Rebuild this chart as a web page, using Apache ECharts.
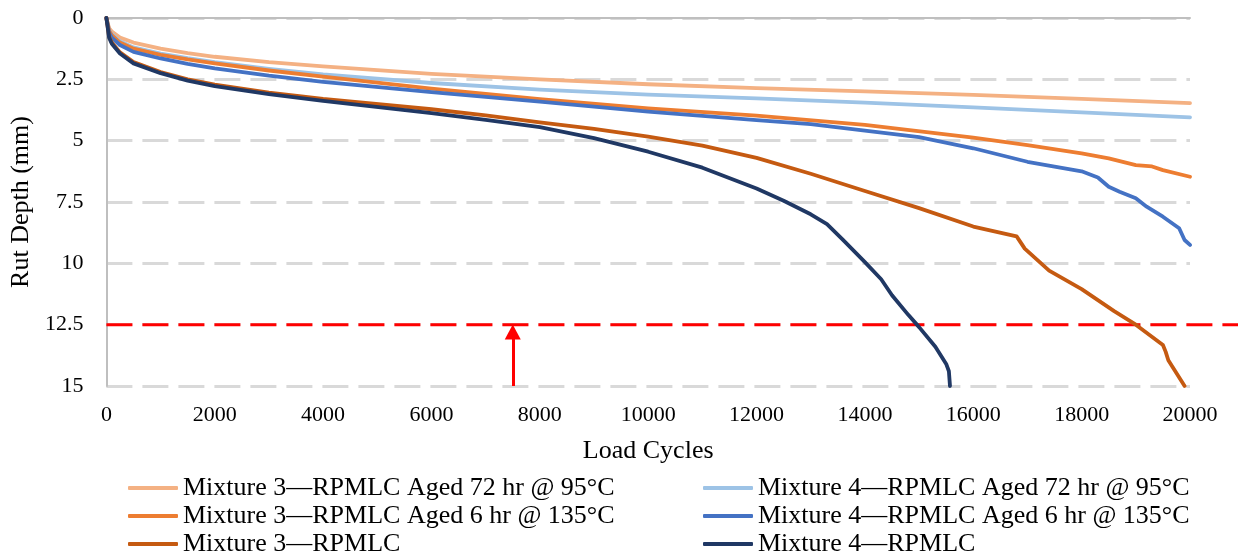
<!DOCTYPE html>
<html>
<head>
<meta charset="utf-8">
<script src="https://cdn.jsdelivr.net/npm/echarts@6/dist/echarts.min.js"></script>
<style>
html, body { margin: 0; padding: 0; background: #fff; }
#rut_chart { width: 1238px; height: 558px; }
</style>
</head>
<body>
<div id="rut_chart"></div>
<script>
// tick labels / names
var xTicks = [0, 2000, 4000, 6000, 8000, 10000, 12000, 14000, 16000, 18000, 20000];
var yTicks = [0, 2.5, 5, 7.5, 10, 12.5, 15];
var seriesNames = [
    'Mixture 3\u2014RPMLC Aged 72 hr @ 95\u00b0C',
    'Mixture 4\u2014RPMLC Aged 72 hr @ 95\u00b0C',
    'Mixture 3\u2014RPMLC Aged 6 hr @ 135\u00b0C',
    'Mixture 4\u2014RPMLC Aged 6 hr @ 135\u00b0C',
    'Mixture 3\u2014RPMLC',
    'Mixture 4\u2014RPMLC'
];

// Mixture 3 aged 72 hr
var m3_72_x = [0, 50, 100, 250, 500, 1000, 1500, 2000, 3000, 4000, 6000, 8000, 10000, 12000, 14000, 16000, 18000, 20000];
var m3_72_y = [0, 0.42, 0.55, 0.8, 1.0, 1.25, 1.43, 1.58, 1.8, 1.97, 2.28, 2.5, 2.7, 2.86, 2.99, 3.13, 3.3, 3.47];
// Mixture 4 aged 72 hr
var m4_72_x = [0, 50, 100, 250, 500, 1000, 1500, 2000, 3000, 4000, 6000, 8000, 10000, 12000, 14000, 16000, 18000, 20000];
var m4_72_y = [0, 0.5, 0.65, 0.95, 1.2, 1.45, 1.64, 1.8, 2.07, 2.3, 2.65, 2.92, 3.12, 3.28, 3.45, 3.64, 3.85, 4.05];
// Mixture 3 aged 6 hr
var m3_6_x = [0, 50, 100, 250, 500, 1000, 1500, 2000, 3000, 4000, 6000, 8000, 10000, 12000, 14000, 16000, 17000, 18000, 18500, 19000, 19300, 19500, 20000];
var m3_6_y = [0, 0.52, 0.7, 1.0, 1.25, 1.5, 1.69, 1.85, 2.14, 2.39, 2.88, 3.31, 3.68, 3.98, 4.36, 4.88, 5.18, 5.52, 5.72, 6.0, 6.05, 6.2, 6.47];
// Mixture 4 aged 6 hr
var m4_6_x = [0, 50, 100, 250, 500, 1000, 1500, 2000, 3000, 4000, 6000, 8000, 10000, 12000, 13000, 14000, 15000, 16000, 17000, 17500, 18000, 18300, 18500, 18700, 19000, 19200, 19500, 19800, 19900, 20000];
var m4_6_y = [0, 0.6, 0.8, 1.1, 1.38, 1.65, 1.87, 2.05, 2.35, 2.6, 3.02, 3.41, 3.82, 4.16, 4.33, 4.59, 4.86, 5.31, 5.86, 6.06, 6.25, 6.5, 6.88, 7.08, 7.35, 7.69, 8.1, 8.57, 9.05, 9.25];
// Mixture 3 unaged
var m3_x = [0, 50, 100, 250, 500, 1000, 1500, 2000, 3000, 4000, 6000, 7000, 8000, 9000, 10000, 11000, 12000, 13000, 14000, 15000, 16000, 16800, 16950, 17400, 18000, 18600, 19000, 19500, 19550, 19600, 19900];
var m3_y = [0, 0.75, 1.0, 1.4, 1.8, 2.2, 2.5, 2.72, 3.04, 3.3, 3.72, 3.97, 4.25, 4.52, 4.84, 5.2, 5.7, 6.35, 7.05, 7.75, 8.5, 8.9, 9.4, 10.3, 11.05, 11.95, 12.5, 13.33, 13.6, 13.95, 15];
// Mixture 4 unaged
var m4_x = [0, 50, 100, 250, 500, 1000, 1500, 2000, 3000, 4000, 6000, 7000, 8000, 9000, 10000, 11000, 12000, 12500, 13000, 13300, 13600, 14000, 14300, 14500, 14800, 15000, 15300, 15500, 15550, 15570];
var m4_y = [0, 0.8, 1.05, 1.45, 1.85, 2.25, 2.55, 2.78, 3.1, 3.38, 3.88, 4.15, 4.45, 4.9, 5.45, 6.1, 6.95, 7.45, 8.0, 8.4, 9.05, 9.95, 10.65, 11.3, 12.1, 12.6, 13.4, 14.1, 14.4, 15];

// failure criterion and arrow
var rutLimit = 12.5;
var arrowCycles = 7500;
var arrowHead = 0.3; // arrow head is centred a little below the limit so its tip touches it

function zip(xs, ys) {
    return xs.map(function (x, i) { return [x, ys[i]]; });
}

var font = '"Liberation Serif", "Times New Roman", serif';
var colors = ['#F4B183', '#9DC3E6', '#ED7D31', '#4472C4', '#C55A11', '#203864'];
var allData = [
    zip(m3_72_x, m3_72_y), zip(m4_72_x, m4_72_y),
    zip(m3_6_x, m3_6_y), zip(m4_6_x, m4_6_y),
    zip(m3_x, m3_y), zip(m4_x, m4_y)
];

var series = allData.map(function (d, i) {
    return {
        name: seriesNames[i],
        type: 'line',
        data: d,
        showSymbol: false,
        symbol: 'none',
        color: colors[i],
        lineStyle: {width: 3.8, color: colors[i], join: 'round', cap: 'round'},
        emphasis: {disabled: true},
        z: 3
    };
});

// arrow pointing up to the limit line
series.push({
    type: 'line',
    data: [],
    silent: true,
    markLine: {
        silent: true,
        symbol: ['none', 'triangle'],
        symbolSize: [16, 15],
        label: {show: false},
        lineStyle: {color: '#FF0000', width: 3, type: 'solid'},
        data: [[{coord: [arrowCycles, 15]}, {coord: [arrowCycles, rutLimit + arrowHead]}]]
    }
});

var legendText = {fontFamily: font, fontSize: 26, color: '#000', lineHeight: 28};

var myChart = echarts.init(document.getElementById('rut_chart'));
var rut_options = {
    animation: false,
    textStyle: {fontFamily: font},
    grid: {left: 106, right: 48, top: 18, bottom: 172},
    legend: [
        {
            left: 128, top: 474, orient: 'vertical', padding: 0,
            itemWidth: 50, itemHeight: 4, itemGap: 0, icon: 'roundRect',
            textStyle: legendText,
            data: [seriesNames[0], seriesNames[2], seriesNames[4]]
        },
        {
            left: 703, top: 474, orient: 'vertical', padding: 0,
            itemWidth: 50, itemHeight: 4, itemGap: 0, icon: 'roundRect',
            textStyle: legendText,
            data: [seriesNames[1], seriesNames[3], seriesNames[5]]
        }
    ],
    xAxis: [
        {
            type: 'value',
            position: 'bottom',
            min: xTicks[0],
            max: xTicks[xTicks.length - 1],
            interval: 2000,
            name: 'Load Cycles',
            nameLocation: 'middle',
            nameGap: 52,
            nameTextStyle: {fontFamily: font, fontSize: 26, color: '#000'},
            axisLine: {show: false},
            axisTick: {show: false},
            splitLine: {show: false},
            axisLabel: {
                fontFamily: font, fontSize: 22, color: '#000', margin: 18,
                formatter: function (v) { return String(v); }
            }
        },
        {
            type: 'value',
            position: 'top',
            min: xTicks[0],
            max: xTicks[xTicks.length - 1],
            axisLine: {show: true, onZero: false, lineStyle: {color: '#BFBFBF', width: 2}},
            axisTick: {show: false},
            axisLabel: {show: false},
            splitLine: {show: false}
        }
    ],
    yAxis: {
        type: 'value',
        inverse: true,
        min: yTicks[0],
        max: yTicks[yTicks.length - 1],
        interval: 2.5,
        name: 'Rut Depth (mm)',
        nameLocation: 'middle',
        nameGap: 70,
        nameTextStyle: {fontFamily: font, fontSize: 26, color: '#000'},
        axisLine: {show: true, onZero: false, lineStyle: {color: '#BFBFBF', width: 2}},
        axisTick: {show: false},
        axisLabel: {fontFamily: font, fontSize: 22, color: '#000', margin: 23},
        splitLine: {
            show: true,
            lineStyle: {color: '#D9D9D9', width: 3, type: [26, 10]}
        }
    },
    series: series
};
myChart.setOption(rut_options, true);

// red dashed limit line runs past the plot to the right edge
var p0 = myChart.convertToPixel({xAxisIndex: 0, yAxisIndex: 0}, [0, rutLimit]);
myChart.setOption({
    graphic: [{
        type: 'line',
        silent: true,
        z: 2,
        shape: {x1: p0[0], y1: p0[1], x2: myChart.getWidth(), y2: p0[1]},
        style: {stroke: '#FF0000', lineWidth: 3, lineDash: [26, 10]}
    }]
});
</script>
</body>
</html>
